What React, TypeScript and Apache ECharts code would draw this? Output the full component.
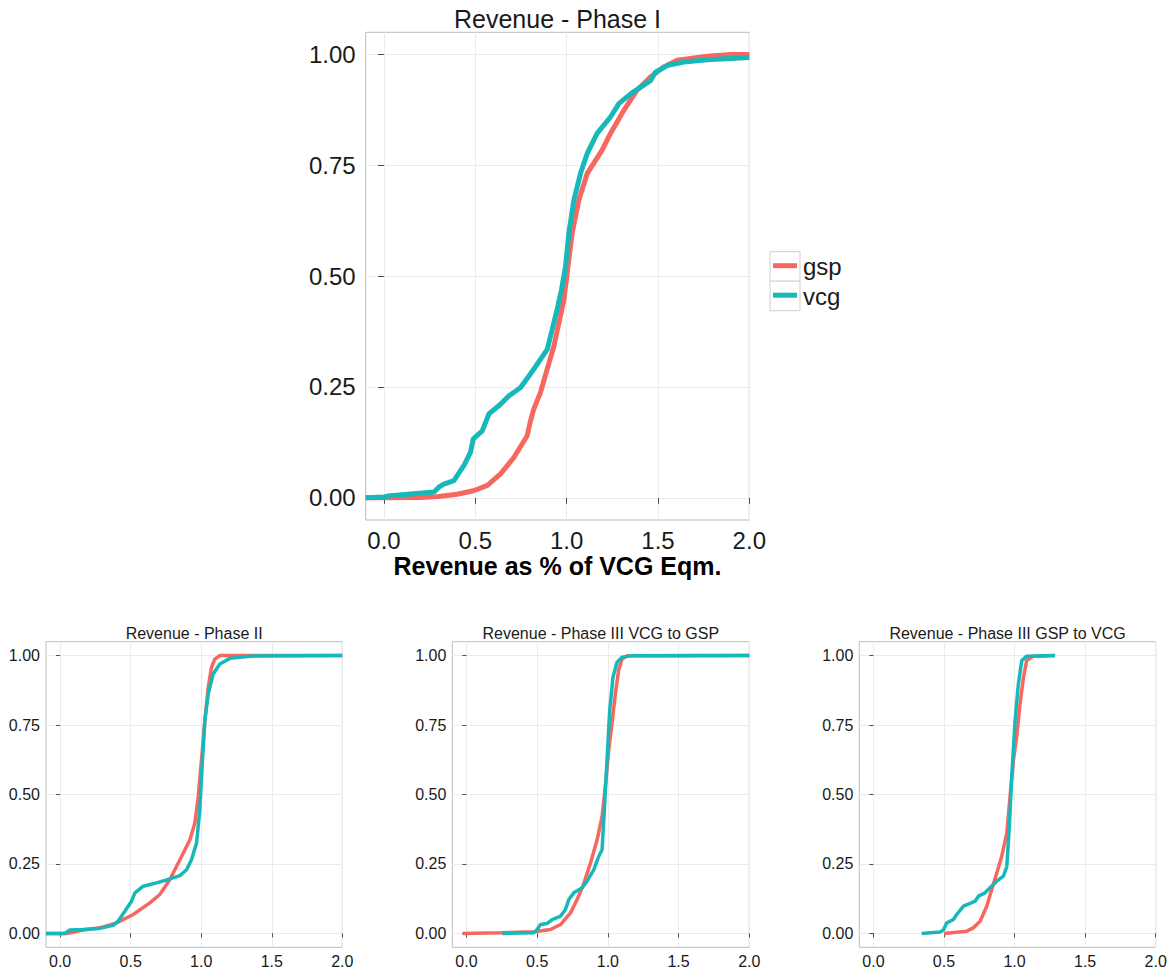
import React, { useEffect, useRef } from "react";
import * as echarts from "echarts";

const X_TICKS = [0, 0.5, 1, 1.5, 2];
const Y_TICKS = [0, 0.25, 0.5, 0.75, 1];
const SERIES_NAMES = ["gsp", "vcg"];
const PANEL_TITLES = [
  "Revenue - Phase I",
  "Revenue - Phase II",
  "Revenue - Phase III VCG to GSP",
  "Revenue - Phase III GSP to VCG",
];
const X_TITLE = "Revenue as % of VCG Eqm.";

const phase1Gsp = [
  [-0.1, 0], [0.0, 0], [0.2, 0.001], [0.3, 0.003], [0.4, 0.008], [0.49, 0.016], [0.566, 0.028],
  [0.638, 0.054], [0.711, 0.091], [0.784, 0.14], [0.8, 0.17], [0.82, 0.2], [0.857, 0.238],
  [0.93, 0.342], [0.985, 0.447], [1.03, 0.597], [1.067, 0.672], [1.113, 0.732], [1.195, 0.785],
  [1.24, 0.822], [1.313, 0.874], [1.386, 0.92], [1.459, 0.949], [1.532, 0.972], [1.605, 0.987],
  [1.77, 0.996], [1.9, 1.0], [2.0, 1.0],
];
const phase1Vcg = [
  [-0.1, 0], [0.0, 0.002], [0.02, 0.004], [0.274, 0.013], [0.3, 0.024], [0.328, 0.031],
  [0.383, 0.039], [0.438, 0.073], [0.474, 0.103], [0.489, 0.133], [0.538, 0.151], [0.574, 0.189],
  [0.638, 0.211], [0.684, 0.23], [0.748, 0.249], [0.82, 0.29], [0.894, 0.335], [0.912, 0.365],
  [0.948, 0.425], [0.972, 0.47], [0.994, 0.522], [1.012, 0.597], [1.04, 0.672], [1.076, 0.732],
  [1.113, 0.777], [1.167, 0.822], [1.24, 0.859], [1.286, 0.889], [1.35, 0.911], [1.459, 0.941],
  [1.486, 0.96], [1.55, 0.975], [1.641, 0.983], [1.77, 0.988], [2.0, 0.993],
];
const phase2Gsp = [
  [-0.1, 0], [0.045, 0], [0.163, 0.012], [0.28, 0.02], [0.4, 0.038], [0.518, 0.068], [0.636, 0.11],
  [0.707, 0.14], [0.778, 0.194], [0.849, 0.265], [0.92, 0.337], [0.955, 0.397], [0.979, 0.492],
  [1.002, 0.624], [1.026, 0.767], [1.05, 0.886], [1.073, 0.958], [1.097, 0.988], [1.132, 1.0],
  [2.0, 1.0],
];
const phase2Vcg = [
  [-0.1, 0], [0.033, 0], [0.069, 0.012], [0.163, 0.014], [0.28, 0.018], [0.376, 0.029],
  [0.411, 0.044], [0.459, 0.08], [0.506, 0.116], [0.53, 0.146], [0.589, 0.17], [0.683, 0.182],
  [0.778, 0.196], [0.849, 0.208], [0.896, 0.229], [0.931, 0.265], [0.967, 0.325], [0.99, 0.444],
  [1.009, 0.624], [1.026, 0.767], [1.05, 0.863], [1.085, 0.934], [1.132, 0.97], [1.203, 0.99],
  [1.345, 0.998], [2.0, 1.0],
];
const phase3VgGsp = [
  [-0.028, 0], [0.242, 0.002], [0.477, 0.006], [0.595, 0.014], [0.665, 0.032], [0.736, 0.074],
  [0.783, 0.122], [0.83, 0.18], [0.877, 0.253], [0.924, 0.337], [0.959, 0.42], [0.982, 0.528],
  [1.006, 0.66], [1.029, 0.755], [1.053, 0.863], [1.076, 0.946], [1.1, 0.988], [1.135, 0.999],
  [2.0, 1.0],
];
const phase3VgVcg = [
  [0.254, 0], [0.477, 0.002], [0.5, 0.014], [0.524, 0.032], [0.571, 0.036], [0.606, 0.05],
  [0.665, 0.062], [0.7, 0.086], [0.724, 0.122], [0.759, 0.146], [0.818, 0.164], [0.853, 0.188],
  [0.9, 0.229], [0.935, 0.277], [0.959, 0.301], [0.975, 0.444], [0.994, 0.624], [1.013, 0.803],
  [1.036, 0.922], [1.065, 0.976], [1.1, 0.994], [1.159, 0.999], [2.0, 1.0],
];
const phase3GvGsp = [
  [0.5, 0], [0.661, 0.008], [0.708, 0.02], [0.756, 0.044], [0.803, 0.098], [0.838, 0.158],
  [0.874, 0.217], [0.909, 0.277], [0.945, 0.361], [0.968, 0.492], [0.992, 0.624], [1.015, 0.707],
  [1.039, 0.827], [1.063, 0.922], [1.086, 0.982], [1.133, 0.998], [1.287, 1.0],
];
const phase3GvVcg = [
  [0.342, 0], [0.472, 0.005], [0.496, 0.012], [0.52, 0.038], [0.567, 0.05], [0.59, 0.068],
  [0.638, 0.098], [0.685, 0.108], [0.72, 0.116], [0.744, 0.134], [0.791, 0.146], [0.826, 0.164],
  [0.874, 0.188], [0.921, 0.206], [0.945, 0.241], [0.963, 0.385], [0.98, 0.564], [1.004, 0.767],
  [1.027, 0.898], [1.051, 0.982], [1.086, 0.998], [1.287, 1.0],
];

const FONT = "'Liberation Sans', Arial, Helvetica, sans-serif";
const COLORS = ["#F6675F", "#17B8BA"];

const panels = [
  { grid: { left: 365.7, top: 32.3, width: 383.6, height: 487.7 }, big: true, data: [phase1Gsp, phase1Vcg] },
  { grid: { left: 46, top: 641.7, width: 296.3, height: 305.6 }, big: false, data: [phase2Gsp, phase2Vcg] },
  { grid: { left: 452.3, top: 641.7, width: 297, height: 305.6 }, big: false, data: [phase3VgGsp, phase3VgVcg] },
  { grid: { left: 859.3, top: 641.7, width: 296.4, height: 305.6 }, big: false, data: [phase3GvGsp, phase3GvVcg] },
];

function buildOption() {
  const grid: any[] = [];
  const xAxis: any[] = [];
  const yAxis: any[] = [];
  const series: any[] = [];
  const graphic: any[] = [];

  panels.forEach((p, i) => {
    grid.push({
      ...p.grid,
      show: true,
      borderColor: "#bdbdbd",
      borderWidth: 1,
      backgroundColor: "transparent",
      containLabel: false,
    });
    const fs = p.big ? 24 : 16;
    const tickLen = p.big ? 6 : 4;
    xAxis.push({
      type: "value",
      gridIndex: i,
      min: -0.1,
      max: 2,
      axisLine: { show: false },
      axisTick: { show: true, customValues: X_TICKS, length: tickLen, lineStyle: { color: "#4d4d4d", width: 1 } },
      axisLabel: {
        customValues: X_TICKS,
        formatter: (v: number) => v.toFixed(1),
        fontSize: fs,
        lineHeight: p.big ? 20 : 16,
        color: "#1a1a1a",
        fontFamily: FONT,
        margin: p.big ? 10 : 6,
      },
      splitLine: { show: true, lineStyle: { color: "#ebebeb", width: 1 } },
    });
    yAxis.push({
      type: "value",
      gridIndex: i,
      min: -0.05,
      max: 1.05,
      axisLine: { show: false },
      axisTick: { show: true, customValues: Y_TICKS, length: tickLen, lineStyle: { color: "#4d4d4d", width: 1 } },
      axisLabel: {
        customValues: Y_TICKS,
        formatter: (v: number) => v.toFixed(2),
        fontSize: fs,
        color: "#1a1a1a",
        fontFamily: FONT,
        margin: p.big ? 10 : 6,
      },
      splitLine: { show: true, lineStyle: { color: "#ebebeb", width: 1 } },
    });
    p.data.forEach((d, k) => {
      series.push({
        type: "line",
        name: SERIES_NAMES[k],
        xAxisIndex: i,
        yAxisIndex: i,
        data: d,
        showSymbol: false,
        symbol: "none",
        clip: true,
        lineStyle: { color: COLORS[k], width: p.big ? 5 : 3.5 },
        itemStyle: { color: COLORS[k] },
        z: 2 + k,
      });
    });
    const cx = p.grid.left + p.grid.width / 2;
    graphic.push({
      type: "text",
      x: cx,
      y: p.big ? 19 : 633,
      style: {
        text: PANEL_TITLES[i],
        align: "center",
        verticalAlign: "middle",
        fontSize: p.big ? 25 : 16,
        fontFamily: FONT,
        fill: "#1a1a1a",
      },
    });
  });

  graphic.push({
    type: "text",
    x: 557.5,
    y: 566,
    style: {
      text: X_TITLE,
      align: "center",
      verticalAlign: "middle",
      fontSize: 25,
      lineHeight: 22,
      fontWeight: "bold",
      fontFamily: FONT,
      fill: "#000",
    },
  });

  SERIES_NAMES.forEach((name, k) => {
    const top = 251.7 + k * 29.5;
    graphic.push({
      type: "rect",
      shape: { x: 770, y: top, width: 30, height: 29.5 },
      style: { fill: "#fff", stroke: "#cfcfcf", lineWidth: 1 },
    });
    graphic.push({
      type: "line",
      shape: { x1: 773, y1: top + 14, x2: 797, y2: top + 14 },
      style: { stroke: COLORS[k], lineWidth: 5 },
    });
    graphic.push({
      type: "text",
      x: 803,
      y: top + 15,
      style: {
        text: name,
        align: "left",
        verticalAlign: "middle",
        fontSize: 24,
        fontFamily: FONT,
        fill: "#1a1a1a",
      },
    });
  });

  return { animation: false, backgroundColor: "#fff", grid, xAxis, yAxis, series, graphic };
}

export default function App() {
  const ref = useRef<HTMLDivElement>(null);
  useEffect(() => {
    document.body.style.margin = "0";
    const chart = echarts.init(ref.current!, null, { renderer: "svg" });
    chart.setOption(buildOption() as any);
    return () => chart.dispose();
  }, []);
  return <div ref={ref} style={{ width: 1171, height: 971 }} />;
}
